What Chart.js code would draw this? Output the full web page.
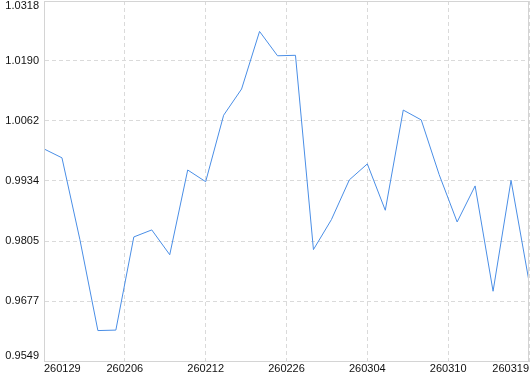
<!DOCTYPE html>
<html>
<head>
<meta charset="utf-8">
<script src="https://cdn.jsdelivr.net/npm/chart.js@4"></script>
<style>
  html, body { margin: 0; padding: 0; background: #fff; }
  #wrap { width: 530px; height: 374px; position: relative; }
</style>
</head>
<body>
<div id="wrap"><canvas id="navChart"></canvas></div>
<script>
'use strict';

// ── Data ─────────────────────────────────────────────────
const navValues = [
  1.0002, 0.9983, 0.9808, 0.9614, 0.9615, 0.9814, 0.9829, 0.9776,
  0.9957, 0.9932, 1.0074, 1.0130, 1.0253, 1.0201, 1.0202, 0.9787,
  0.9851, 0.9936, 0.9970, 0.9871, 1.0085, 1.0064, 0.9947, 0.9846,
  0.9923, 0.9698, 0.9935, 0.9719,
];
const xTickLabels = ['260129', '260206', '260212', '260226', '260304', '260310', '260319'];
const yTickValues = [0.9549, 0.9677, 0.9805, 0.9934, 1.0062, 1.0190, 1.0318];

// ── Styling ──────────────────────────────────────────────
const LINE    = '#4a8ee6';
const GRID    = '#dadada';
const FRAME   = '#d4d4d4';
const TEXT    = '#111';
const FONT    = { family: "'Liberation Sans', Arial, sans-serif", size: 11 };

const lastIdx  = navValues.length - 1;
const tickStep = lastIdx / (xTickLabels.length - 1);

// frame around the plot area (top/right edges are solid in the original)
const framePlugin = {
  id: 'frame',
  afterDraw(chart) {
    const { ctx, chartArea: a } = chart;
    ctx.save();
    ctx.setLineDash([]);
    ctx.strokeStyle = FRAME;
    ctx.lineWidth = 1;
    ctx.strokeRect(Math.round(a.left) + 0.5, Math.round(a.top) + 0.5,
                   Math.round(a.right - a.left) - 1, Math.round(a.bottom - a.top));
    ctx.restore();
  },
};

// first/last y labels are nudged inside the plot (empty extra line does the shift)
function yLabel(v, i) {
  const txt = v.toFixed(4);
  if (i === 0) return [txt, ''];
  if (i === yTickValues.length - 1) return ['', txt];
  return txt;
}

new Chart(document.getElementById('navChart'), {
  type: 'line',
  data: {
    datasets: [{
      data: navValues.map((v, i) => ({ x: i, y: v })),
      borderColor: LINE,
      borderWidth: 1,
      pointRadius: 0,
      tension: 0,
      fill: false,
    }],
  },
  options: {
    responsive: true,
    maintainAspectRatio: false,
    animation: false,
    events: [],
    layout: { padding: { top: 1, right: 1, left: 0, bottom: 0 } },
    plugins: { legend: { display: false }, tooltip: { enabled: false } },
    scales: {
      x: {
        type: 'linear',
        min: 0,
        max: lastIdx,
        afterBuildTicks: s => { s.ticks = xTickLabels.map((_, i) => ({ value: i * tickStep })); },
        afterFit: s => { s.height = 13; s.paddingLeft = 0; s.paddingRight = 0; },
        ticks: {
          autoSkip: false,
          maxRotation: 0,
          align: 'inner',
          padding: 1,
          color: TEXT,
          font: FONT,
          callback: (v, i) => xTickLabels[i],
        },
        grid: { color: GRID, drawTicks: false, lineWidth: 1 },
        border: { color: FRAME, dash: [4, 3] },
      },
      y: {
        type: 'linear',
        min: yTickValues[0],
        max: yTickValues[yTickValues.length - 1],
        afterBuildTicks: s => { s.ticks = yTickValues.map(v => ({ value: v })); },
        afterFit: s => { s.width = 44; s.paddingTop = 0; s.paddingBottom = 0; },
        ticks: {
          padding: 5,
          color: TEXT,
          font: { ...FONT, lineHeight: '9.5px' },
          callback: yLabel,
        },
        grid: { color: GRID, drawTicks: false, lineWidth: 1 },
        border: { color: FRAME, dash: [4, 3] },
      },
    },
  },
  plugins: [framePlugin],
});
</script>
</body>
</html>
